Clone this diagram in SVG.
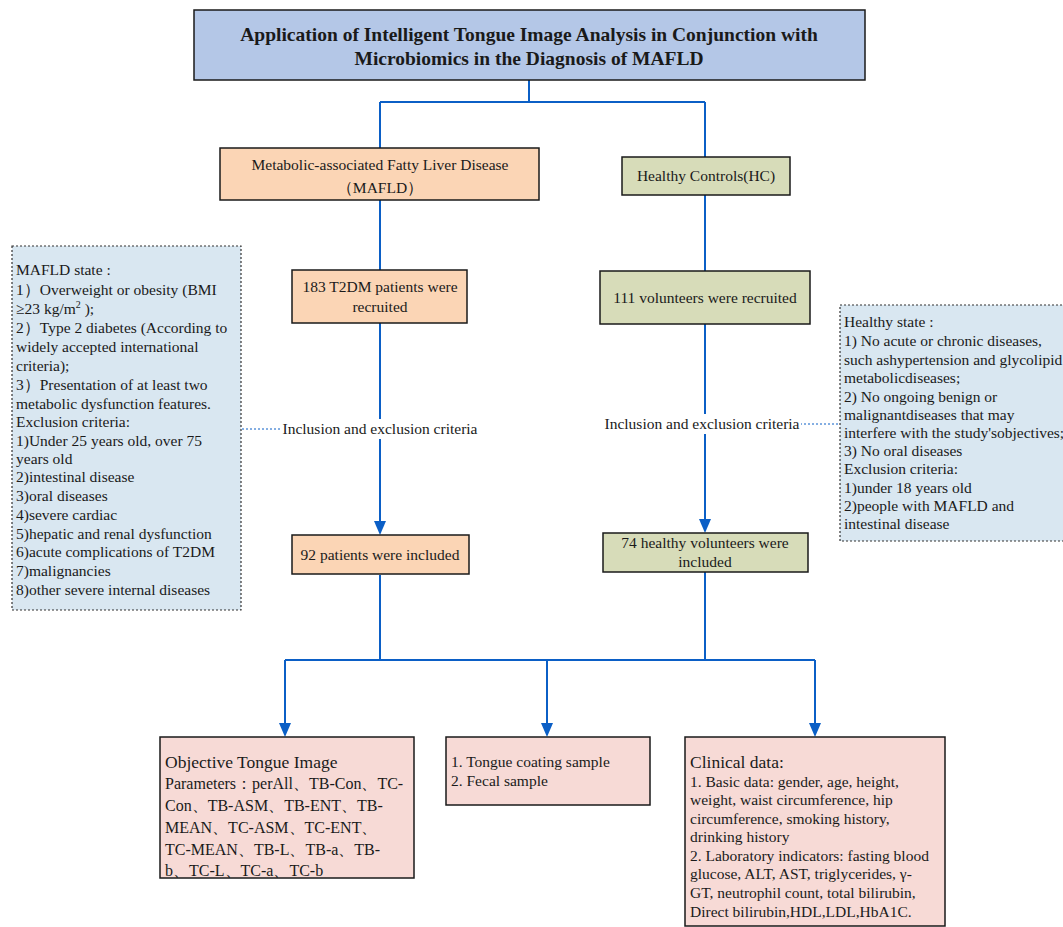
<svg xmlns="http://www.w3.org/2000/svg" width="1063" height="927" viewBox="0 0 1063 927">
<style>
text{font-family:"Liberation Serif","Times New Roman",serif;font-size:15.5px;fill:#1a1a1a}
.c{text-anchor:middle}
.t{font-weight:bold;font-size:19.5px}
.box{stroke:#1a1a1a;stroke-width:1.5}
.title{fill:#b4c7e7}
.peach{fill:#fbd5b5}
.olive{fill:#d7dcb9}
.pink{fill:#f7dad6}
.note{fill:#d9e7f1;stroke:#333;stroke-width:1.2;stroke-dasharray:2,2}
.ln{stroke:#0b5fc6;stroke-width:2;fill:none}
.dl{stroke:#0b5fc6;stroke-width:1;stroke-dasharray:2,2;fill:none}
.big{font-size:17.5px}
.p{font-size:16px}
.ah{fill:#0b5fc6}
</style>
<g id="connectors">
<path class="ln" d="M529,80 V102 M380,102 H705 M380,102 V148 M705,102 V157"/>
<path class="ln" d="M380,200 V270"/>
<path class="ln" d="M705,195 V271"/>
<path class="ln" d="M380,323 V521"/>
<path class="ah" d="M374,521 L386,521 L380,535 Z"/>
<path class="ln" d="M705,324 V519"/>
<path class="ah" d="M699,519 L711,519 L705,533 Z"/>
<path class="ln" d="M380,575 V660 M705,572 V660 M285,660 H815 M285,660 V723 M547,660 V723 M815,660 V723"/>
<path class="ah" d="M279,723 L291,723 L285,737 Z M541,723 L553,723 L547,737 Z M809,723 L821,723 L815,737 Z"/>
<path class="dl" d="M242,429 H281 M800,424 H840"/>
<rect x="281" y="419" width="197" height="20" fill="#fff"/>
<text class="c" x="380" y="434">Inclusion and exclusion criteria</text>
<rect x="604" y="414" width="197" height="20" fill="#fff"/>
<text class="c" x="702" y="429">Inclusion and exclusion criteria</text>
</g>
<g id="title">
<rect class="box title" x="194" y="10" width="671" height="70"/>
<text class="c t" x="529" y="41">Application of Intelligent Tongue Image Analysis in Conjunction with</text>
<text class="c t" x="529" y="65">Microbiomics in the Diagnosis of MAFLD</text>
</g>
<g id="mafld">
<rect class="box peach" x="220" y="148" width="319" height="52"/>
<text class="c" x="380" y="170">Metabolic-associated Fatty Liver Disease</text>
<text class="c" x="380" y="193">（MAFLD）</text>
</g>
<g id="hc">
<rect class="box olive" x="622" y="157" width="168" height="38"/>
<text class="c" x="706" y="181">Healthy Controls(HC)</text>
</g>
<g id="recruit183">
<rect class="box peach" x="292" y="270" width="175" height="53"/>
<text class="c" x="380" y="292">183 T2DM patients were</text>
<text class="c" x="380" y="312">recruited</text>
</g>
<g id="recruit111">
<rect class="box olive" x="600" y="271" width="210" height="53"/>
<text class="c" x="705" y="303">111 volunteers were recruited</text>
</g>
<g id="included92">
<rect class="box peach" x="292" y="535" width="177" height="39"/>
<text class="c" x="380" y="560">92 patients were included</text>
</g>
<g id="included74">
<rect class="box olive" x="603" y="533" width="205" height="39"/>
<text class="c" x="705" y="548">74 healthy volunteers were</text>
<text class="c" x="705" y="567">included</text>
</g>
<g id="mafld-criteria">
<rect class="note" x="12" y="246" width="229" height="364"/>
<text x="16" y="275">MAFLD state :</text>
<text x="16" y="295">1）Overweight or obesity (BMI</text>
<text x="16" y="314">≥23 kg/m<tspan dy="-6" font-size="10">2</tspan><tspan dy="6"> );</tspan></text>
<text x="16" y="333">2）Type 2 diabetes (According to</text>
<text x="16" y="352">widely accepted international</text>
<text x="16" y="371">criteria);</text>
<text x="16" y="390">3）Presentation of at least two</text>
<text x="16" y="409">metabolic dysfunction features.</text>
<text x="16" y="427">Exclusion criteria:</text>
<text x="16" y="446">1)Under 25 years old, over 75</text>
<text x="16" y="464">years old</text>
<text x="16" y="482">2)intestinal disease</text>
<text x="16" y="501">3)oral diseases</text>
<text x="16" y="520">4)severe cardiac</text>
<text x="16" y="539">5)hepatic and renal dysfunction</text>
<text x="16" y="557">6)acute complications of T2DM</text>
<text x="16" y="576">7)malignancies</text>
<text x="16" y="595">8)other severe internal diseases</text>
</g>
<g id="hc-criteria">
<rect class="note" x="840" y="305" width="230" height="236"/>
<text x="844" y="327">Healthy state :</text>
<text x="844" y="346">1) No acute or chronic diseases,</text>
<text x="844" y="365">such ashypertension and glycolipid</text>
<text x="844" y="383">metabolicdiseases;</text>
<text x="844" y="402">2) No ongoing benign or</text>
<text x="844" y="420">malignantdiseases that may</text>
<text x="844" y="438">interfere with the study'sobjectives;</text>
<text x="844" y="456">3) No oral diseases</text>
<text x="844" y="474">Exclusion criteria:</text>
<text x="844" y="493">1)under 18 years old</text>
<text x="844" y="511">2)people with MAFLD and</text>
<text x="844" y="529">intestinal disease</text>
</g>
<g id="tongue-params">
<rect class="box pink" x="160" y="737" width="254" height="141"/>
<text class="big" x="165" y="768">Objective Tongue Image</text>
<text class="p" x="165" y="789">Parameters：perAll、TB-Con、TC-</text>
<text class="p" x="165" y="811">Con、TB-ASM、TB-ENT、TB-</text>
<text class="p" x="165" y="833">MEAN、TC-ASM、TC-ENT、</text>
<text class="p" x="165" y="855">TC-MEAN、TB-L、TB-a、TB-</text>
<text class="p" x="165" y="876">b、TC-L、TC-a、TC-b</text>
</g>
<g id="samples">
<rect class="box pink" x="446" y="737" width="204" height="68"/>
<text x="451" y="767">1. Tongue coating sample</text>
<text x="451" y="786">2.  Fecal sample</text>
</g>
<g id="clinical">
<rect class="box pink" x="685" y="737" width="260" height="189"/>
<text class="big" x="690" y="768">Clinical data:</text>
<text x="690" y="787">1. Basic data: gender, age, height,</text>
<text x="690" y="805">weight, waist circumference, hip</text>
<text x="690" y="824">circumference, smoking history,</text>
<text x="690" y="842">drinking history</text>
<text x="690" y="861">2. Laboratory indicators: fasting blood</text>
<text x="690" y="879">glucose, ALT, AST, triglycerides, γ-</text>
<text x="690" y="898">GT, neutrophil count, total bilirubin,</text>
<text x="690" y="917">Direct bilirubin,HDL,LDL,HbA1C.</text>
</g>
</svg>
